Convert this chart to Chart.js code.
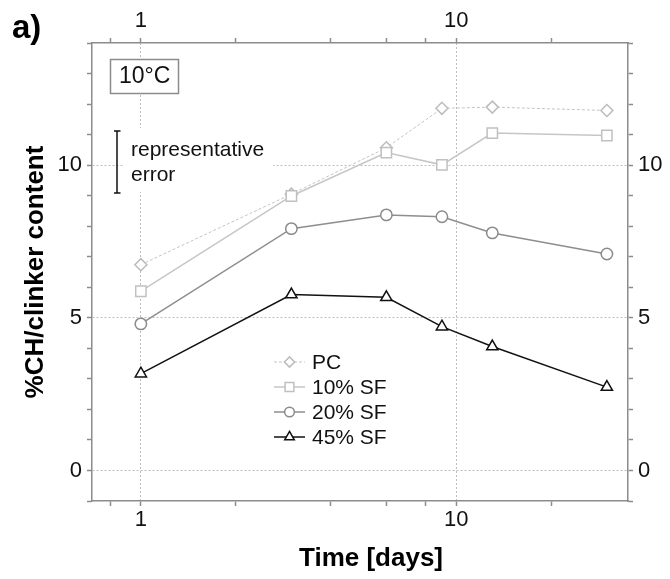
<!DOCTYPE html>
<html><head><meta charset="utf-8">
<script src="https://cdn.jsdelivr.net/npm/chart.js@4.4.1/dist/chart.umd.min.js"></script>
<style>html,body{margin:0;padding:0;background:#fff;}canvas{display:block;}</style>
</head><body>
<canvas id="c" width="670" height="579"></canvas>
<script>
// ---- data ----
const days = [1, 3, 6, 9, 13, 30];
const seriesNames = ['PC', '10% SF', '20% SF', '45% SF'];
const pcValues   = [6.74, 9.05, 10.57, 11.86, 11.90, 11.79];
const sf10Values = [5.87, 8.99, 10.41, 10.01, 11.05, 10.97];
const sf20Values = [4.80, 7.92, 8.37, 8.31, 7.78, 7.09];
const sf45Values = [3.17, 5.76, 5.67, 4.71, 4.06, 2.73];
const xTickValues = [0.8, 1, 2, 4, 6, 8, 10, 20];
const xTickLabels = {1: '1', 10: '10'};
const yMajorLabels = [0, 5, 10];

const FONT = '"Liberation Sans", Arial, sans-serif';
const axisColor = '#8c8c8c';
const gridMajor = '#bdbdbd';

const styles = [
  {color: '#c4c4c4', pcolor: '#bcbcbc', width: 1, dash: [3, 2], point: 'rectRot', r: 6},
  {color: '#c6c6c6', pcolor: '#c0c0c0', width: 1.5, dash: [], point: 'rect', r: 7.3},
  {color: '#8e8e8e', pcolor: '#8a8a8a', width: 1.5, dash: [], point: 'circle', r: 5.7},
  {color: '#111111', pcolor: '#111111', width: 1.5, dash: [], point: 'triangle', r: 6.5}
];
const seriesValues = [pcValues, sf10Values, sf20Values, sf45Values];

const datasets = seriesValues.map((vals, k) => ({
  label: seriesNames[k],
  data: days.map((d, i) => ({x: d, y: vals[i]})),
  borderColor: styles[k].color,
  borderWidth: styles[k].width,
  borderDash: styles[k].dash,
  pointStyle: styles[k].point,
  pointRadius: styles[k].r,
  pointBorderColor: styles[k].pcolor,
  pointBackgroundColor: '#ffffff',
  pointBorderWidth: 1.5,
  tension: 0,
  order: 4 - k,
  xAxisID: 'x',
  yAxisID: 'y'
}));

function xScale(position, onArea) {
  return {
    type: 'logarithmic', position: position, min: 0.7, max: 35,
    afterBuildTicks: s => { s.ticks = xTickValues.map(v => ({value: v})); },
    ticks: {
      autoSkip: false, maxRotation: 0, minRotation: 0,
      padding: position === 'bottom' ? 1 : 4,
      color: '#111', font: {family: FONT, size: 22},
      callback: v => xTickLabels[v] || ''
    },
    grid: {
      drawOnChartArea: onArea,
      color: c => (c.tick && xTickLabels[c.tick.value]) ? gridMajor : 'rgba(0,0,0,0)',
      tickColor: axisColor, tickLength: 5, lineWidth: 1, tickWidth: 1.5
    },
    border: {color: axisColor, width: 1.5, dash: [2, 2]},
    afterFit: s => { s.height = position === 'bottom' ? 78 : 43; }
  };
}
function yScale(position, onArea) {
  return {
    type: 'linear', position: position, min: -1, max: 14,
    ticks: {
      stepSize: 1, autoSkip: false, padding: 5,
      color: '#111', font: {family: FONT, size: 22},
      callback: v => yMajorLabels.includes(v) ? String(v) : ''
    },
    grid: {
      drawOnChartArea: onArea,
      color: c => (c.tick && yMajorLabels.includes(c.tick.value)) ? gridMajor : 'rgba(0,0,0,0)',
      tickColor: axisColor, tickLength: 5, lineWidth: 1, tickWidth: 1.5
    },
    border: {color: axisColor, width: 1.5, dash: [2, 2]},
    afterFit: s => { s.width = position === 'left' ? 92 : 42; }
  };
}

function drawMarker(ctx, style, r, x, y) {
  if (window.Chart && Chart.helpers && Chart.helpers.drawPoint) {
    Chart.helpers.drawPoint(ctx, {pointStyle: style, radius: r, rotation: 0, borderWidth: 1.5}, x, y);
    return;
  }
  ctx.beginPath();
  if (style === 'circle') ctx.arc(x, y, r, 0, Math.PI * 2);
  else if (style === 'rect') { const s = r * Math.SQRT1_2; ctx.rect(x - s, y - s, 2 * s, 2 * s); }
  else if (style === 'rectRot') { ctx.moveTo(x, y - r); ctx.lineTo(x + r, y); ctx.lineTo(x, y + r); ctx.lineTo(x - r, y); ctx.closePath(); }
  else { ctx.moveTo(x, y - r); ctx.lineTo(x + r * 0.866, y + r / 2); ctx.lineTo(x - r * 0.866, y + r / 2); ctx.closePath(); }
  ctx.fill(); ctx.stroke();
}

const overlay = {
  id: 'overlay',
  afterDraw(chart) {
    const ctx = chart.ctx;
    ctx.save();
    ctx.fillStyle = '#000';
    // panel label
    ctx.font = 'bold 33px ' + FONT;
    ctx.textAlign = 'left'; ctx.textBaseline = 'alphabetic';
    ctx.fillText('a)', 12, 38);
    // axis titles
    ctx.font = 'bold 26px ' + FONT;
    ctx.textAlign = 'center';
    ctx.fillText('Time [days]', 371, 566);
    ctx.save();
    ctx.translate(43, 272); ctx.rotate(-Math.PI / 2);
    ctx.fillText('%CH/clinker content', 0, 0);
    ctx.restore();

    // temperature box
    ctx.fillStyle = '#fff';
    ctx.fillRect(110.5, 59.5, 68, 34);
    ctx.strokeStyle = '#8c8c8c'; ctx.lineWidth = 1.5;
    ctx.strokeRect(110.5, 59.5, 68, 34);
    ctx.fillStyle = '#111';
    ctx.font = '23px ' + FONT;
    ctx.textAlign = 'center'; ctx.textBaseline = 'middle';
    ctx.fillText('10\u00B0C', 144.7, 77);

    // representative error annotation
    ctx.fillStyle = '#fff';
    ctx.fillRect(123, 128, 150, 64);
    ctx.strokeStyle = '#111'; ctx.lineWidth = 1.5;
    ctx.beginPath();
    ctx.moveTo(117, 131); ctx.lineTo(117, 193);
    ctx.moveTo(114, 131); ctx.lineTo(120.5, 131);
    ctx.moveTo(114, 193); ctx.lineTo(120.5, 193);
    ctx.stroke();
    ctx.fillStyle = '#111';
    ctx.font = '21px ' + FONT;
    ctx.textAlign = 'left'; ctx.textBaseline = 'alphabetic';
    ctx.fillText('representative', 131, 156);
    ctx.fillText('error', 131, 181);

    // legend
    const rows = [362, 387, 412, 437];
    rows.forEach((ly, k) => {
      const st = styles[k];
      ctx.save();
      ctx.strokeStyle = st.color; ctx.lineWidth = st.width;
      ctx.setLineDash(st.dash);
      ctx.beginPath(); ctx.moveTo(274, ly); ctx.lineTo(305, ly); ctx.stroke();
      ctx.setLineDash([]);
      ctx.fillStyle = '#fff'; ctx.strokeStyle = st.pcolor; ctx.lineWidth = 1.5;
      drawMarker(ctx, st.point, st.r * 0.85, 289.5, ly);
      ctx.restore();
      ctx.fillStyle = '#111';
      ctx.font = '21px ' + FONT;
      ctx.textAlign = 'left'; ctx.textBaseline = 'middle';
      ctx.fillText(seriesNames[k], 312, ly + 1);
    });
    ctx.restore();
  }
};

new Chart(document.getElementById('c'), {
  type: 'line',
  data: {datasets: datasets},
  options: {
    responsive: false,
    animation: false,
    devicePixelRatio: 1,
    events: [],
    layout: {padding: 0},
    plugins: {legend: {display: false}, tooltip: {enabled: false}, title: {display: false}},
    scales: {
      x: xScale('bottom', true),
      x2: xScale('top', false),
      y: yScale('left', true),
      y2: yScale('right', false)
    }
  },
  plugins: [overlay]
});
</script>
</body></html>
